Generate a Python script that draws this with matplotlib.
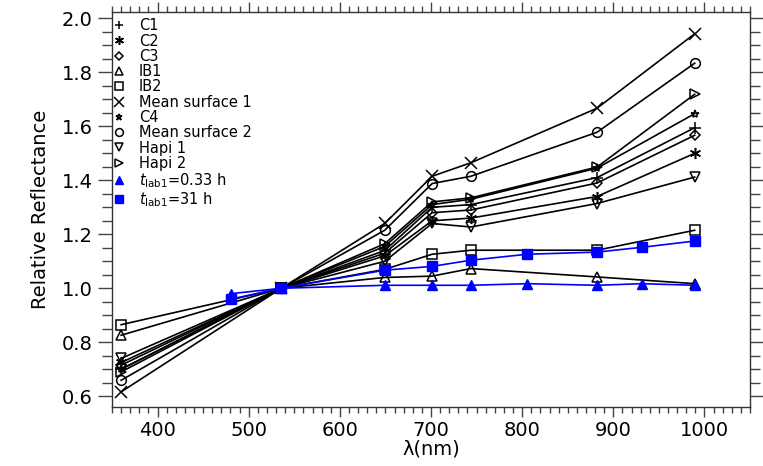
import matplotlib
matplotlib.use("Agg")
import matplotlib.pyplot as plt
from matplotlib.ticker import MultipleLocator

plt.rcParams['font.family'] = ['DejaVu Sans']
plt.rcParams['mathtext.fontset'] = 'dejavusans'

# Wavelengths (nm)
wl_black = [360.0, 535.7, 649.2, 701.2, 743.7, 882.1, 989.3]
wl_blue = [480.7, 535.7, 649.2, 701.2, 743.7, 805.3, 882.1, 931.9, 989.3]

# Relative reflectance (normalised at 535 nm)
c1 = [0.700, 1.0, 1.140, 1.300, 1.310, 1.410, 1.595]
c2 = [0.725, 1.0, 1.120, 1.250, 1.260, 1.340, 1.500]
c3 = [0.715, 1.0, 1.130, 1.280, 1.290, 1.390, 1.567]
ib1 = [0.826, 1.0, 1.040, 1.045, 1.073, 1.042, 1.017]
ib2 = [0.865, 1.0, 1.070, 1.126, 1.141, 1.141, 1.215]
ms1 = [0.616, 1.0, 1.240, 1.415, 1.465, 1.667, 1.943]
c4 = [0.700, 1.0, 1.155, 1.310, 1.330, 1.445, 1.647]
ms2 = [0.659, 1.0, 1.215, 1.388, 1.415, 1.578, 1.834]
hapi1 = [0.740, 1.0, 1.100, 1.240, 1.227, 1.314, 1.412]
hapi2 = [0.690, 1.0, 1.165, 1.320, 1.335, 1.449, 1.719]

tlab_033 = [0.980, 1.0, 1.011, 1.011, 1.011, 1.017, 1.011, 1.017, 1.011]
tlab_31 = [0.960, 1.0, 1.067, 1.081, 1.104, 1.126, 1.134, 1.152, 1.175]

labels = ['C1', 'C2', 'C3', 'IB1', 'IB2', 'Mean surface 1', 'C4',
          'Mean surface 2', 'Hapi 1', 'Hapi 2']
black_series = [c1, c2, c3, ib1, ib2, ms1, c4, ms2, hapi1, hapi2]
markers = ['+', (6, 2, 0), 'D', '^', 's', 'x', '*', 'o', 'v', '>']
msizes = [8, 8, 5.5, 7, 7, 9, 6, 7, 7, 7]

fig = plt.figure(figsize=(7.63, 4.66), dpi=100)
ax = fig.add_axes([0.1468, 0.1266, 0.8362, 0.8484])

for vals, lab, m, ms in zip(black_series, labels, markers, msizes):
    filled = m in ('+', 'x') or isinstance(m, tuple)
    ax.plot(wl_black, vals, color='black', lw=1.2, marker=m, ms=ms,
            mfc='none' if not filled else 'black', mec='black', mew=1.1,
            label=lab)

blue = '#0000ff'
ax.plot(wl_blue, tlab_033, color=blue, lw=1.2, marker='^', ms=6.5,
        mfc=blue, mec=blue, label=r'$t_{\mathrm{lab1}}$=0.33 h')
ax.plot(wl_blue, tlab_31, color=blue, lw=1.2, marker='s', ms=6.5,
        mfc=blue, mec=blue, label=r'$t_{\mathrm{lab1}}$=31 h')

ax.set_xlim(350, 1050)
ax.set_ylim(0.56, 2.025)
ax.xaxis.set_major_locator(MultipleLocator(100))
ax.xaxis.set_minor_locator(MultipleLocator(10))
ax.yaxis.set_major_locator(MultipleLocator(0.2))
ax.yaxis.set_minor_locator(MultipleLocator(0.05))
ax.yaxis.set_major_formatter(plt.FuncFormatter(lambda v, p: f'{v:.1f}'))

ax.tick_params(which='both', direction='out', top=True, right=True,
               color='#444444', labelsize=14, width=1)
ax.tick_params(axis='x', which='major', length=7, pad=3)
ax.tick_params(axis='x', which='minor', length=4)
ax.tick_params(axis='y', which='major', length=10, pad=4)
ax.tick_params(axis='y', which='minor', length=7)
for s in ax.spines.values():
    s.set_color('#333333')
    s.set_linewidth(1.0)

ax.set_xlabel('λ(nm)', fontsize=14, labelpad=0)
ax.set_ylabel('Relative Reflectance', fontsize=14, labelpad=8)

leg = ax.legend(loc='upper left', bbox_to_anchor=(0.0, 1.0), frameon=False,
                fontsize=10.5, handlelength=0, handletextpad=1.4,
                labelspacing=0.02, borderpad=0.15, borderaxespad=0.3,
                numpoints=1, markerscale=0.8)

fig.savefig('out.png', dpi=100)
